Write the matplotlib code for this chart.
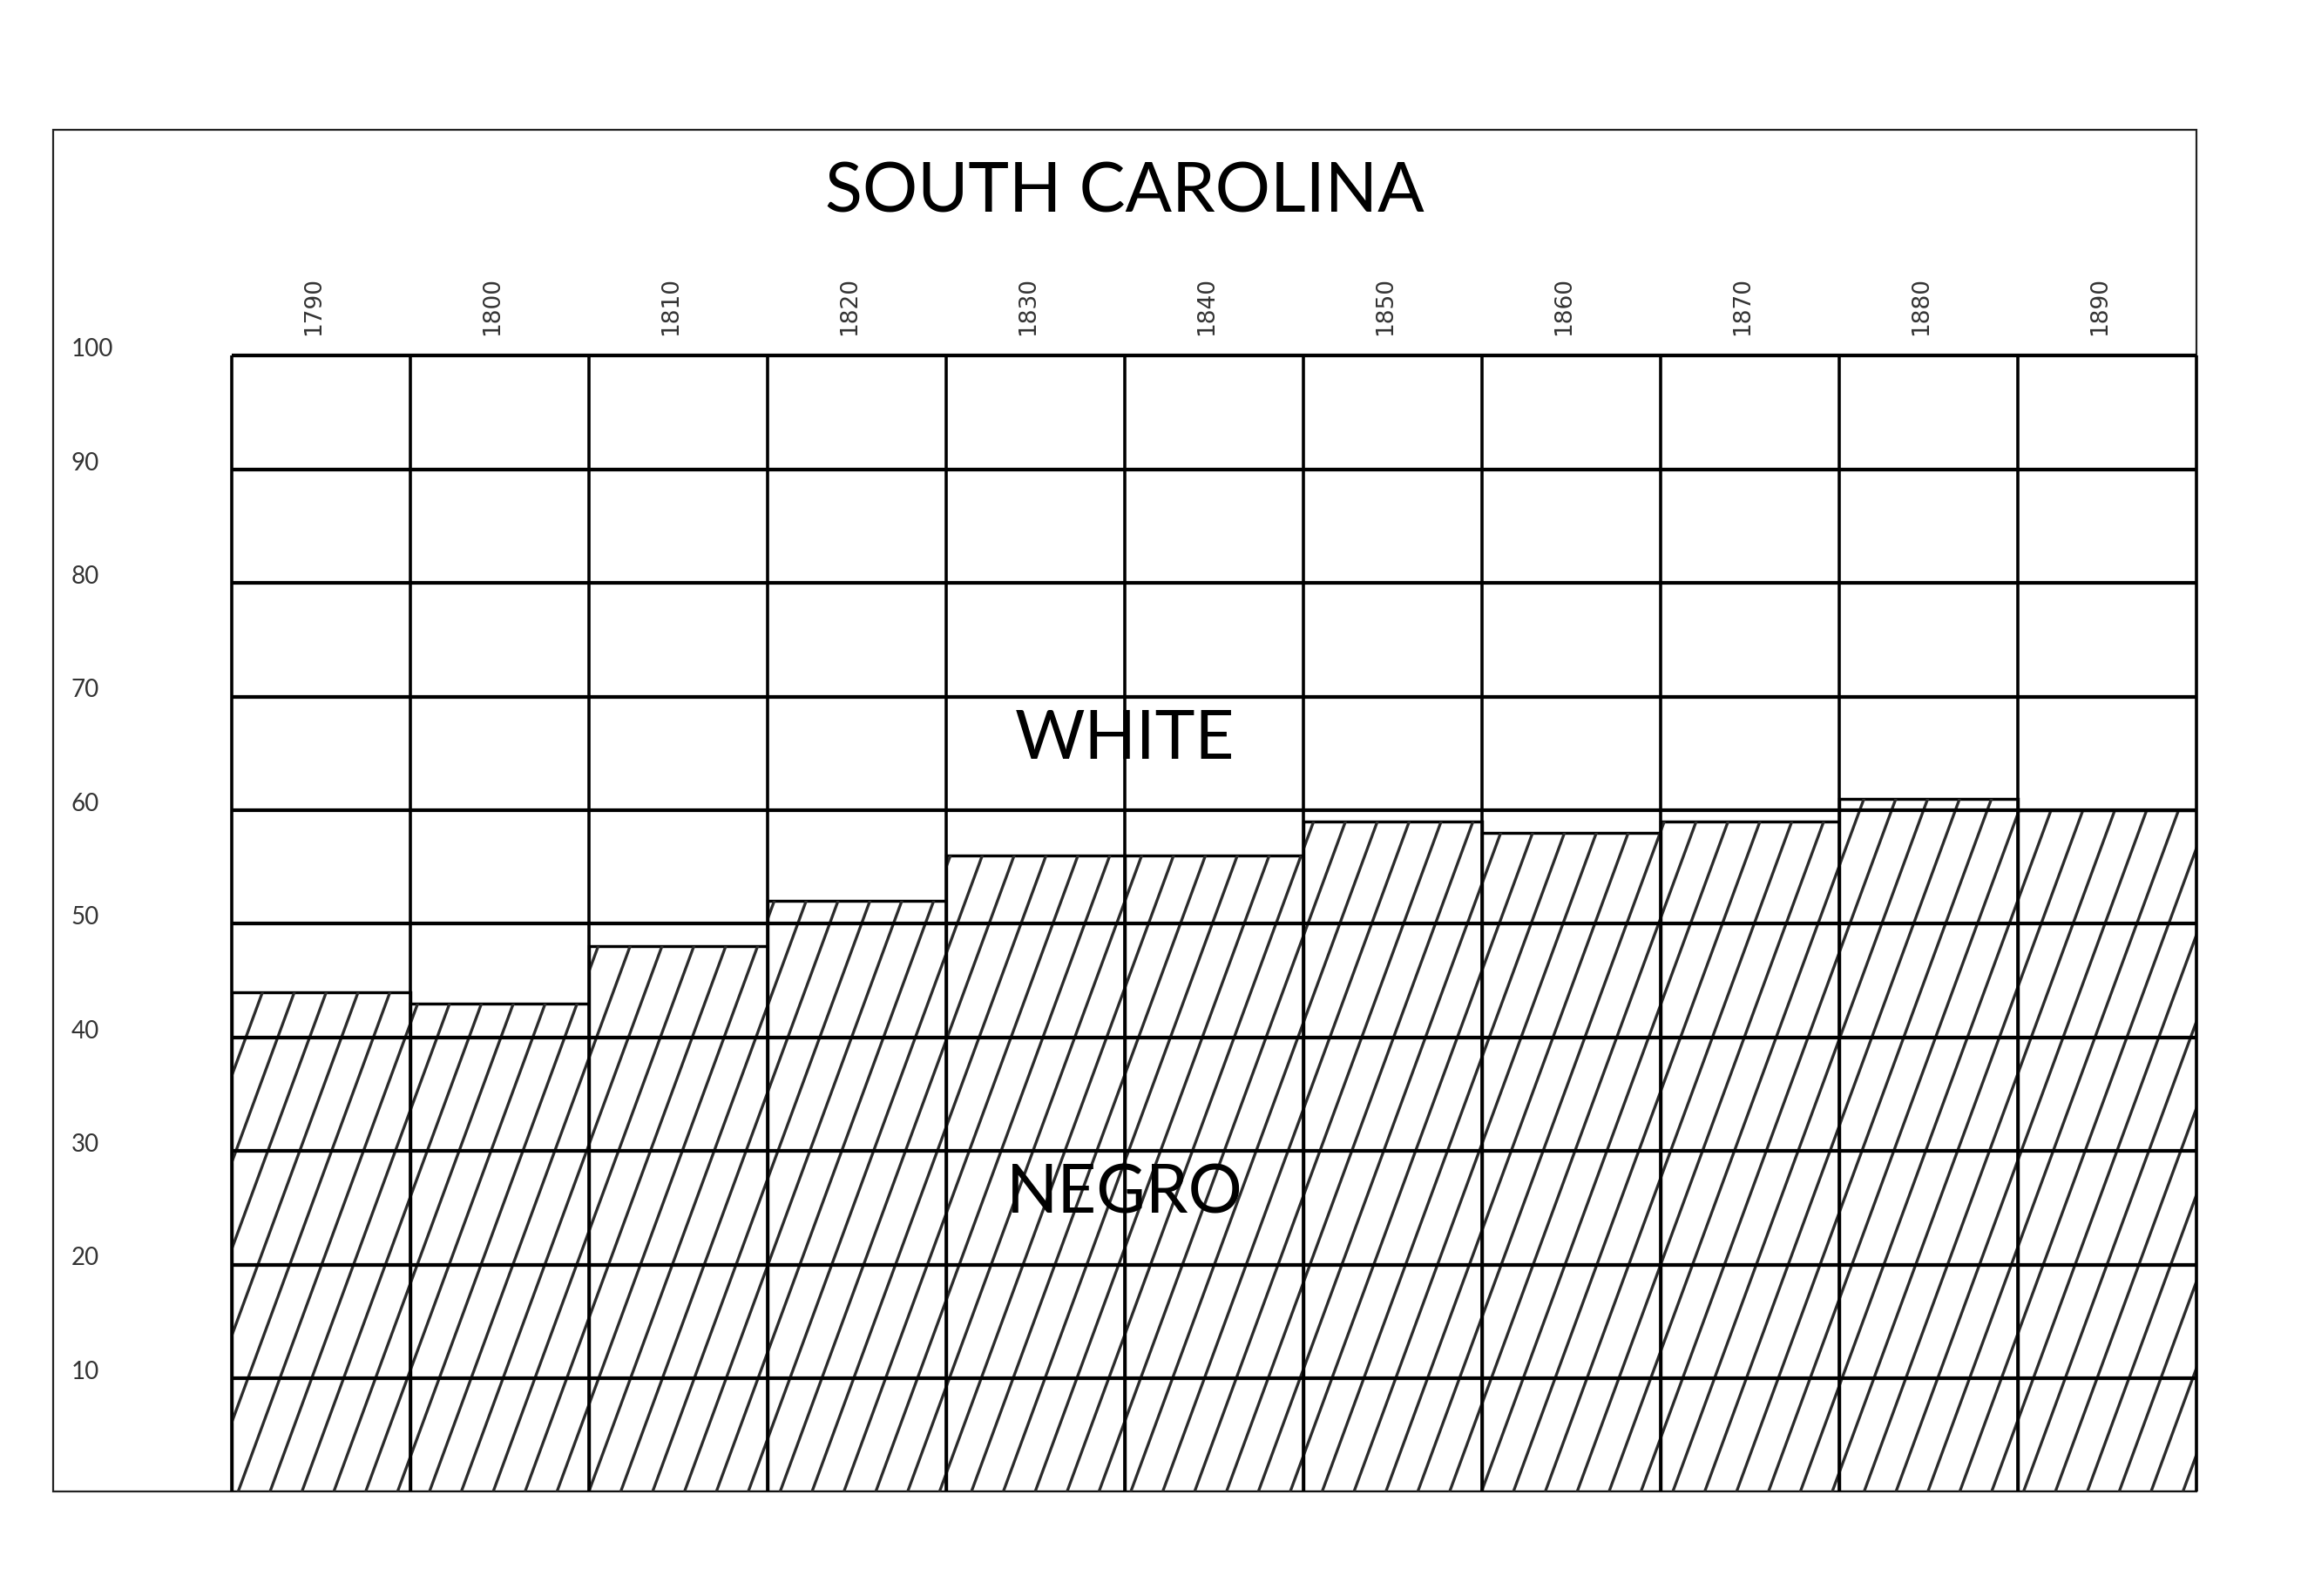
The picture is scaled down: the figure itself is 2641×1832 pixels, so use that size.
import numpy as np
import matplotlib
matplotlib.use("Agg")
import matplotlib.pyplot as plt
from matplotlib.collections import LineCollection
from matplotlib.patches import Rectangle

# ---- data ----
years = ["1790", "1800", "1810", "1820", "1830", "1840",
         "1850", "1860", "1870", "1880", "1890"]
negro_pct = [44, 43, 48, 52, 56, 56, 59, 58, 59, 61, 60]
y_ticks = [10, 20, 30, 40, 50, 60, 70, 80, 90, 100]
title = "SOUTH CAROLINA"
label_upper = "WHITE"
label_lower = "NEGRO"

W, H = 2641, 1833
DPI = 100
fig = plt.figure(figsize=(W / DPI, H / DPI), dpi=DPI)
fig.patch.set_facecolor("white")

# plot area in pixel coordinates
px_left, px_right = 265.7, 2520.7
px_top, px_bottom = 409.3, 1713.3
ax = fig.add_axes([px_left / W, 1 - px_bottom / H,
                   (px_right - px_left) / W, (px_bottom - px_top) / H])
n = len(years)
ax.set_xlim(0, n)
ax.set_ylim(0, 100)
ax.axis("off")

px = 1 / DPI * 72  # points per pixel

# outer frame
frame_left, frame_top = 61, 150
fig.add_artist(Rectangle((frame_left / W, 1 - px_bottom / H),
                         (px_right - frame_left) / W, (px_bottom - frame_top) / H,
                         transform=fig.transFigure, fill=False,
                         edgecolor="#222222", linewidth=2.2 * px, zorder=0))

# bars
xpos = np.arange(n) + 0.5
bars = ax.bar(xpos, negro_pct, width=1.0, facecolor="white",
              edgecolor="black", linewidth=3.4 * px, zorder=2)

# slanted hatch (pattern style), clipped to every bar
phase, spacing, slope = 0.037, 0.1785, 0.0234
ks = np.arange(-16, 64)
x0 = phase + ks * spacing
segs = [[(a, 0), (a + slope * 100, 100)] for a in x0]
for b in bars:
    lc = LineCollection(segs, colors="#2b2b2b", linewidths=3.3 * px, zorder=2.2)
    ax.add_collection(lc)
    lc.set_clip_path(b)

# grid lines
ax.hlines(y_ticks, 0, n, colors="black", linewidth=4.2 * px, zorder=3, clip_on=False)
ax.vlines(np.arange(n + 1), 0, 100, colors="black", linewidth=3.6 * px, zorder=3, clip_on=False)

# y labels
for v in y_ticks:
    ax.annotate(str(v), xy=(81.7 / W, v), xycoords=("figure fraction", "data"),
                ha="left", va="baseline", fontsize=20, family="Lato",
                color="#333333", annotation_clip=False)

# year labels
for xp, yr in zip(xpos, years):
    ax.annotate(yr, xy=(xp, 100), xytext=(-8 * px, 24 * px), textcoords="offset points",
                rotation=90, ha="center", va="bottom", fontsize=19,
                family="DejaVu Sans", color="#333333", annotation_clip=False)

# title and area labels
center_x = (frame_left + px_right) / 2 / W
fig.text(center_x, 1 - 244 / H, title, ha="center", va="baseline",
         fontsize=57, family="Lato", color="black")
ax.annotate(label_upper, xy=(center_x, 64.6), xycoords=("figure fraction", "data"),
            ha="center", va="baseline", fontsize=56, family="Lato",
            color="black", zorder=5)
ax.annotate(label_lower, xy=(center_x, 24.6), xycoords=("figure fraction", "data"),
            ha="center", va="baseline", fontsize=56, family="Lato",
            color="black", zorder=5)

fig.savefig("out.png", dpi=DPI, facecolor="white")
